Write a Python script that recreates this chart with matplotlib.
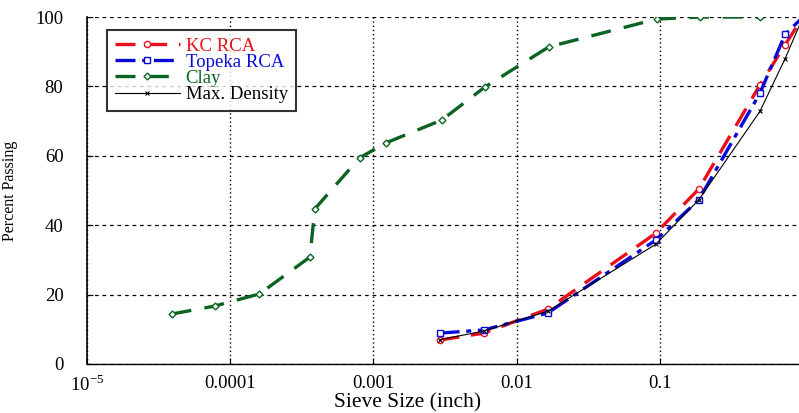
import matplotlib
matplotlib.use("Agg")
import matplotlib.pyplot as plt
from matplotlib.ticker import FixedLocator

plt.rcParams['font.family'] = ['Liberation Serif', 'DejaVu Serif']
plt.rcParams['mathtext.fontset'] = 'stix'

# sieve sizes (inch) for the RCA gradations
sieves = [0.0029, 0.0059, 0.0165, 0.0937, 0.187, 0.5, 0.75, 1.0]
kc_rca = [6.9, 8.9, 15.8, 37.7, 50.4, 80.4, 92.0, 100]
topeka_rca = [8.9, 9.8, 14.7, 35.7, 47.3, 78.0, 95.0, 100]
max_density = [7.0, 9.5, 15.2, 34.5, 47.3, 72.8, 88.0, 100]

# clay (hydrometer + sieve)
clay_size = [3.9e-5, 7.8e-5, 1.6e-4, 3.6e-4, 3.9e-4, 8.0e-4, 1.22e-3,
             3.0e-3, 6.0e-3, 0.0168, 0.095, 0.19, 0.5]
clay_pass = [14.4, 16.7, 20.2, 30.8, 44.7, 59.4, 63.7,
             70.3, 79.8, 91.4, 99.4, 100, 100]

xticks = [1e-5, 1e-4, 1e-3, 1e-2, 1e-1]
xticklabels = [r'10$^{\mathregular{-5}}$', '0.0001', '0.001', '0.01', '0.1']
yticks = [0, 20, 40, 60, 80, 100]

fig = plt.figure(figsize=(7.99, 4.13), dpi=100)
# axes runs to 1 inch, a bit past the right edge of the picture
ax = fig.add_axes([87 / 799, 49 / 413, 716 / 799, 347 / 413])

ax.plot(sieves, kc_rca, color='#e8101a', lw=2.4, dashes=(6, 3.5),
        marker='o', ms=4.5, mfc='white', mec='#e8101a', mew=1, label='KC RCA')
ax.plot(sieves, topeka_rca, color='#0a0ad8', lw=2.4, dashes=(6, 2, 1.5, 2),
        marker='s', ms=5, mfc='white', mec='#0a0ad8', mew=1, label='Topeka RCA')
ax.plot(clay_size, clay_pass, color='#0b6322', lw=2.4, dashes=(6, 4),
        marker='D', ms=3.5, mfc='white', mec='#0b6322', mew=1, label='Clay')
ax.plot(sieves, max_density, color='black', lw=0.8,
        marker='x', ms=3, mew=0.8, label='Max. Density')

ax.set_xscale('log')
ax.set_xlim(1e-5, 1)
ax.set_ylim(0, 100)
ax.xaxis.set_major_locator(FixedLocator(xticks))
ax.xaxis.set_minor_locator(FixedLocator([]))
ax.set_xticks(xticks)
ax.set_xticklabels(xticklabels)
ax.set_yticks(yticks)
ax.tick_params(direction='in', length=4, labelsize=13.5, width=0.8, pad=8)
ax.tick_params(axis='y', pad=17)

ax.xaxis.grid(True, color='black', linestyle=(0, (1, 2)), lw=1.0)
ax.yaxis.grid(True, color='black', linestyle=(0, (3, 3)), lw=0.9)
ax.spines['top'].set_visible(False)
ax.spines['right'].set_visible(False)
ax.spines['left'].set_linewidth(1.2)
ax.spines['bottom'].set_linewidth(1.0)
ax.spines['bottom'].set_linestyle((0, (3, 1)))

ax.set_xlabel('Sieve Size (inch)', fontsize=15.5, labelpad=2)
ax.xaxis.set_label_coords((408 - 87) / 716, -0.083)
ax.set_ylabel('Percent Passing', fontsize=11.5)
ax.yaxis.set_label_coords(-0.097, 0.5)

leg = ax.legend(loc='upper left', bbox_to_anchor=(20 / 716, 1 - 13 / 347),
                fontsize=13.5, frameon=True, fancybox=False, edgecolor='black',
                handlelength=3.5, borderpad=0.4, labelspacing=-0.05,
                handletextpad=0.3, borderaxespad=0)
leg.get_frame().set_linewidth(1.5)
for text, c in zip(leg.get_texts(), ['#e8101a', '#0a0ad8', '#0b6322', 'black']):
    text.set_color(c)

fig.savefig('out.png', dpi=100)
